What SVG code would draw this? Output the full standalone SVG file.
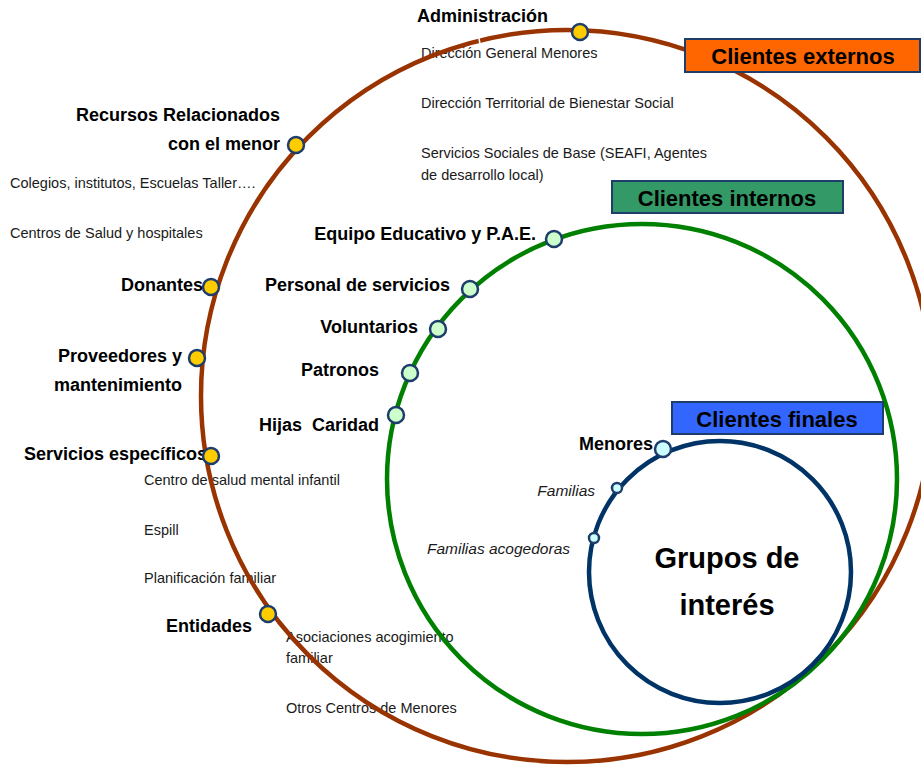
<svg xmlns="http://www.w3.org/2000/svg" width="921" height="766" viewBox="0 0 921 766">
<style>
.t{font-family:"Liberation Sans",Arial,sans-serif;font-size:14.5px;fill:#1a1a1a}
.b{font-family:"Liberation Sans",Arial,sans-serif;font-size:18px;font-weight:bold;fill:#000}
.i{font-family:"Liberation Sans",Arial,sans-serif;font-size:15.5px;font-style:italic;fill:#1a1a1a}
.h{font-family:"Liberation Sans",Arial,sans-serif;font-size:22px;font-weight:bold;fill:#000;text-anchor:middle}
.g{font-family:"Liberation Sans",Arial,sans-serif;font-size:29px;font-weight:bold;fill:#000;text-anchor:middle}
.ring{fill:none;stroke-width:4.5}
.dy{fill:#FFCC00;stroke:#1F3D6B;stroke-width:2.5}
.dg{fill:#CCFFCC;stroke:#1F3D6B;stroke-width:2.5}
.dc{fill:#CCFFFF;stroke:#1F3D6B;stroke-width:2.5}
.box{stroke:#1F3D6B;stroke-width:2}
</style>
<rect width="921" height="766" fill="#fff"/>
<g id="texts">
<text class="t" x="421" y="58">Dirección General Menores</text>
<text class="t" x="421" y="108">Dirección Territorial de Bienestar Social</text>
<text class="t" x="421" y="158">Servicios Sociales de Base (SEAFI, Agentes</text>
<text class="t" x="421" y="180">de desarrollo local)</text>
<text class="t" x="10" y="188">Colegios, institutos, Escuelas Taller….</text>
<text class="t" x="10" y="238">Centros de Salud y hospitales</text>
<text class="t" x="144" y="485">Centro de salud mental infantil</text>
<text class="t" x="144" y="535">Espill</text>
<text class="t" x="144" y="583">Planificación familiar</text>
<text class="t" x="286" y="642">Asociaciones acogimiento</text>
<text class="t" x="286" y="663">familiar</text>
<text class="t" x="286" y="713">Otros Centros de Menores</text>
</g>
<g id="rings">
<circle class="ring" cx="567" cy="396" r="366" stroke="#993300"/>
<line x1="478" y1="33" x2="480" y2="44" stroke="#fff" stroke-width="1.5"/>
<circle class="ring" cx="642" cy="479" r="255" stroke="#008000"/>
<circle class="ring" cx="720" cy="572" r="131" stroke="#003366"/>
</g>
<g id="administracion"><text class="b" x="417" y="22">Administración</text><circle class="dy" cx="580" cy="32" r="8"/></g>
<g id="recursos"><text class="b" x="280" y="121" text-anchor="end">Recursos Relacionados</text><text class="b" x="280" y="150" text-anchor="end">con el menor</text><circle class="dy" cx="296" cy="145" r="8"/></g>
<g id="donantes"><text class="b" x="121" y="291">Donantes</text><circle class="dy" cx="211" cy="287" r="8"/></g>
<g id="proveedores"><text class="b" x="182" y="362" text-anchor="end">Proveedores y</text><text class="b" x="182" y="391" text-anchor="end">mantenimiento</text><circle class="dy" cx="197" cy="358" r="8"/></g>
<g id="servicios"><text class="b" x="24" y="460">Servicios específicos</text><circle class="dy" cx="211" cy="456" r="8"/></g>
<g id="entidades"><text class="b" x="166" y="632">Entidades</text><circle class="dy" cx="268" cy="614" r="8"/></g>
<g id="equipo"><text class="b" x="536" y="240" text-anchor="end">Equipo Educativo y P.A.E.</text><circle class="dg" cx="554" cy="239" r="8"/></g>
<g id="personal"><text class="b" x="450" y="291" text-anchor="end">Personal de servicios</text><circle class="dg" cx="470" cy="289" r="8"/></g>
<g id="voluntarios"><text class="b" x="418" y="333" text-anchor="end">Voluntarios</text><circle class="dg" cx="438" cy="329" r="8"/></g>
<g id="patronos"><text class="b" x="379" y="376" text-anchor="end">Patronos</text><circle class="dg" cx="410" cy="373" r="8"/></g>
<g id="hijas"><text class="b" x="379" y="431" text-anchor="end" xml:space="preserve">Hijas  Caridad</text><circle class="dg" cx="396" cy="415" r="8"/></g>
<g id="menores"><text class="b" x="579" y="450">Menores</text><circle class="dc" cx="663" cy="449" r="8"/></g>
<g id="familias"><text class="i" x="595" y="496" text-anchor="end">Familias</text><circle class="dc" cx="617" cy="488" r="5"/></g>
<g id="acogedoras"><text class="i" x="570" y="554" text-anchor="end">Familias acogedoras</text><circle class="dc" cx="594" cy="538" r="5"/></g>
<g id="grupos"><text class="g" x="727" y="568">Grupos de</text><text class="g" x="727" y="615">interés</text></g>
<g id="clientes-externos"><rect class="box" x="685" y="39" width="235" height="33" fill="#FF6600"/><text class="h" x="803" y="64">Clientes externos</text></g>
<g id="clientes-internos"><rect class="box" x="612" y="181" width="231" height="32" fill="#339966"/><text class="h" x="727" y="206">Clientes internos</text></g>
<g id="clientes-finales"><rect class="box" x="672" y="402" width="211" height="32" fill="#3366FF"/><text class="h" x="777" y="427">Clientes finales</text></g>
</svg>
